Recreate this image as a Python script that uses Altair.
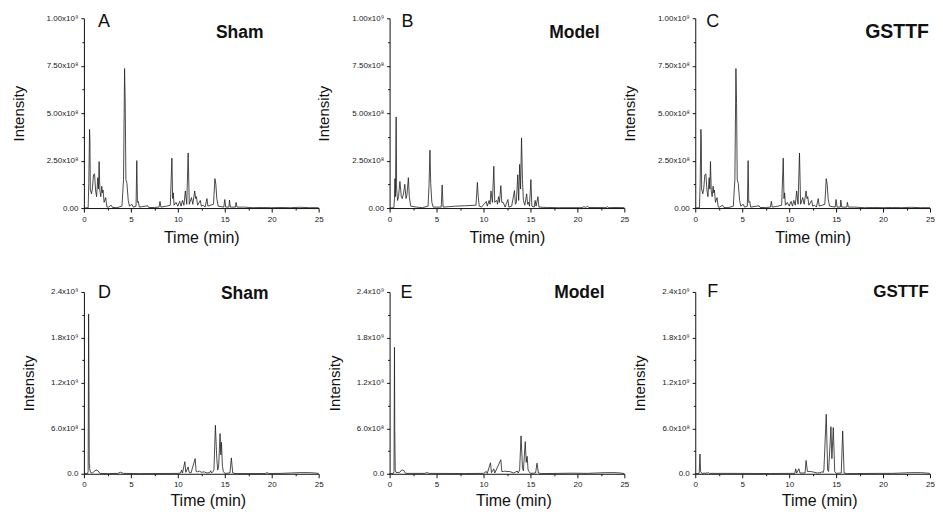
import altair as alt
import pandas as pd

# ---------------- data (intensity values in units of 1e8) ----------------
A_T = [0.0, 0.45, 0.52, 0.6, 0.64, 0.68, 0.8, 0.9, 1.02, 1.13, 1.25, 1.35, 1.48, 1.55, 1.62, 1.7, 1.8, 1.9, 1.97, 2.04, 2.15, 2.32, 2.45, 2.6, 2.9, 3.05, 3.5,
       4.05, 4.22, 4.33, 4.4, 4.47, 4.58, 4.72, 4.85, 5.1, 5.25, 5.55, 5.63, 5.7, 5.8, 5.9, 6.8, 6.9, 7.5, 8.0, 8.1, 8.2, 8.8, 9.2, 9.37, 9.45, 9.52,
       9.6, 9.8, 10.0, 10.2, 10.35, 10.5, 10.65, 10.8, 10.95, 11.1, 11.22, 11.45, 11.6, 11.8, 11.9, 11.98, 12.1, 12.4, 12.5, 12.7, 12.9, 13.1,
       13.2, 13.5, 13.8, 13.95, 14.05, 14.15, 14.3, 14.9, 15.0, 15.1, 15.45, 15.5, 15.6, 16.15, 16.2, 16.3, 17.0, 18.0, 19.0, 20.0, 21.0,
       22.0, 23.0, 24.0, 25.0]
A_V = [0.0, 0.02, 1.3, 4.15, 3.6, 1.0, 0.75, 1.0, 1.75, 1.8, 0.9, 0.6, 1.6, 1.0, 2.45, 0.9, 0.6, 1.15, 0.8, 0.95, 0.3, 0.55, 0.05, 0.05, 0.15, 0.03, 0.02,
       0.1, 1.5, 7.35, 5.5, 1.5, 1.3, 0.4, 0.1, 0.2, 0.05, 0.1, 2.5, 0.3, 0.35, 0.05, 0.12, 0.03, 0.03, 0.05, 0.35, 0.05, 0.1, 0.15, 2.63, 0.5, 0.8,
       0.15, 0.3, 0.1, 0.35, 0.1, 0.4, 0.15, 0.9, 0.2, 2.9, 0.2, 0.55, 0.2, 0.9, 0.5, 0.6, 0.15, 0.4, 0.1, 0.15, 0.05, 0.5,
       0.1, 0.15, 0.2, 1.55, 1.25, 0.5, 0.1, 0.05, 0.45, 0.05, 0.05, 0.42, 0.05, 0.05, 0.3, 0.05, 0.05, 0.02, 0.03, 0.02, 0.03,
       0.02, 0.04, 0.02, 0.02]

B_T = [0.0, 0.45, 0.52, 0.57, 0.62, 0.7, 0.75, 0.85, 0.95, 1.1, 1.25, 1.35, 1.5, 1.62, 1.75, 1.85, 2.0, 2.1, 2.25, 2.9, 3.5, 4.1, 4.2, 4.3, 4.38,
       4.5, 4.65, 5.5, 5.6, 5.7, 6.0, 7.0, 8.0, 9.2, 9.35, 9.45, 9.55, 9.8, 10.3, 10.4, 10.6, 10.7, 10.8, 10.95, 11.1, 11.2, 11.4, 11.5, 11.6,
       11.7, 11.85, 11.95, 12.1, 12.3, 12.6, 12.7, 13.0, 13.3, 13.4, 13.5, 13.65, 13.75, 13.85, 13.95, 14.05, 14.15, 14.25, 14.4, 14.6, 14.7,
       14.8, 14.9, 15.05, 15.15, 15.4, 15.5, 15.6, 15.8, 15.9, 16.8, 18.0, 20.5, 20.7, 20.85, 21.1, 21.2, 22.0, 23.1, 23.2, 23.3, 24.0, 25.0]
B_V = [0.0, 0.02, 0.5, 1.55, 0.6, 4.8, 1.0, 0.4, 0.6, 1.4, 0.6, 0.5, 0.8, 1.25, 0.5, 0.7, 1.6, 0.6, 0.1, 0.05, 0.02, 0.1, 1.2, 3.05, 1.3,
       0.3, 0.05, 0.05, 1.22, 0.05, 0.06, 0.1, 0.12, 0.15, 1.35, 0.55, 0.1, 0.05, 0.35, 0.1, 0.4, 0.2, 0.9, 0.3, 2.2, 0.3, 0.4, 0.2, 0.6,
       0.3, 1.18, 0.3, 0.3, 0.05, 0.45, 0.05, 0.1, 0.92, 0.2, 0.3, 1.75, 0.4, 2.3, 1.0, 3.7, 1.5, 0.4, 0.15, 0.75, 0.2,
       0.3, 0.1, 1.5, 0.1, 0.05, 0.4, 0.1, 0.6, 0.05, 0.03, 0.02, 0.02, 0.08, 0.03, 0.1, 0.03, 0.03, 0.02, 0.08, 0.02, 0.03, 0.02]

C_T = list(A_T)
C_V = list(A_V)

D_T = [0.0, 0.38, 0.45, 0.5, 0.53, 0.57, 0.62, 0.7, 0.9, 1.1, 1.3, 1.5, 1.7, 2.5, 3.6, 3.9, 4.2, 6.0, 8.0, 10.0, 10.3, 10.4, 10.5, 10.75,
       10.85, 11.1, 11.2, 11.4, 11.85, 11.95, 12.1, 12.3, 12.5, 12.8, 13.1, 13.4, 13.5, 13.6, 13.75, 13.85, 14.0, 14.15, 14.25, 14.35, 14.5,
       14.58, 14.65, 14.75, 14.85, 15.0, 15.55, 15.7, 15.85, 16.2, 19.3, 19.5, 19.7, 21.0, 22.0, 23.0, 24.0, 24.6, 25.0]
D_V = [0.0, 0.05, 0.3, 21.1, 13.0, 1.5, 0.65, 0.2, 0.1, 0.3, 0.5, 0.4, 0.05, 0.02, 0.05, 0.2, 0.05, 0.02, 0.03, 0.05, 0.1, 0.5, 0.1, 1.6,
       0.2, 0.9, 0.2, 0.1, 2.0, 0.3, 0.25, 0.35, 0.2, 0.25, 0.1, 0.15, 0.4, 0.1, 0.3, 0.5, 6.4, 2.0, 0.5, 1.0, 5.3,
       2.5, 4.15, 1.0, 0.3, 0.05, 0.1, 2.1, 0.1, 0.02, 0.03, 0.15, 0.03, 0.05, 0.1, 0.15, 0.15, 0.1, 0.05]

E_T = [0.0, 0.4, 0.47, 0.52, 0.55, 0.6, 0.7, 1.1, 1.3, 1.5, 1.7, 3.7, 4.0, 4.2, 8.0, 10.0, 10.3, 10.4, 10.75, 10.85, 11.1, 11.2, 11.85,
       11.95, 12.1, 12.3, 12.5, 12.8, 13.2, 13.6, 13.7, 13.85, 14.0, 14.15, 14.25, 14.45, 14.55, 14.65, 14.75, 14.85, 15.0, 15.55, 15.7, 15.85,
       16.2, 19.5, 21.0, 22.0, 23.0, 24.0, 24.6, 25.0]
E_V = [0.0, 0.05, 0.3, 16.7, 6.0, 0.5, 0.15, 0.2, 0.5, 0.45, 0.05, 0.05, 0.15, 0.05, 0.03, 0.05, 0.3, 0.05, 1.45, 0.15, 0.65, 0.1, 1.85,
       0.3, 0.3, 0.35, 0.3, 0.3, 0.1, 0.35, 0.1, 0.5, 5.0, 0.8, 0.4, 4.25, 1.5, 2.3, 0.5, 0.3, 0.05, 0.1, 1.4, 0.1,
       0.02, 0.08, 0.05, 0.1, 0.15, 0.15, 0.1, 0.02]

F_T = [0.0, 0.42, 0.5, 0.57, 0.7, 1.3, 1.4, 1.5, 3.8, 8.0, 10.0, 10.6, 10.7, 10.8, 11.05, 11.15, 11.7, 11.8, 11.95, 12.2, 12.5, 13.0,
       13.4, 13.5, 13.6, 13.7, 13.95, 14.1, 14.2, 14.45, 14.55, 14.7, 14.85, 15.0, 15.55, 15.7, 15.85, 16.2, 19.5, 21.0, 22.0, 23.0, 24.0,
       24.6, 25.0]
F_V = [0.0, 0.05, 2.6, 0.3, 0.05, 0.1, 0.15, 0.05, 0.05, 0.03, 0.05, 0.05, 0.65, 0.1, 0.65, 0.1, 0.1, 1.75, 0.3, 0.3, 0.25, 0.1,
       0.15, 0.3, 0.15, 0.5, 7.85, 0.5, 0.3, 6.2, 2.0, 6.1, 0.3, 0.05, 0.1, 5.65, 0.1, 0.02, 0.05, 0.05, 0.1, 0.15, 0.15,
       0.1, 0.05]

LETTERS = ["A", "B", "C", "D", "E", "F"]
GROUPS = ["Sham", "Model", "GSTTF", "Sham", "Model", "GSTTF"]

X_TICKS = [0, 2.5, 5, 7.5, 10, 12.5, 15, 17.5, 20, 22.5, 25]

TOP_TICKS = [0, 125000000, 250000000, 375000000, 500000000, 625000000, 750000000, 875000000, 1000000000]
TOP_MAJOR = [0, 250000000, 500000000, 750000000, 1000000000]
TOP_LABELS = ["0.00", "2.50x10⁸", "5.00x10⁸", "7.50x10⁸", "1.00x10⁹"]

BOT_TICKS = [0, 300000000, 600000000, 900000000, 1200000000, 1500000000, 1800000000, 2100000000, 2400000000]
BOT_MAJOR = [0, 600000000, 1200000000, 1800000000, 2400000000]
BOT_LABELS = ["0.0", "6.0x10⁸", "1.2x10⁹", "1.8x10⁹", "2.4x10⁹"]

TRACES = [(A_T, A_V), (B_T, B_V), (C_T, C_V), (D_T, D_V), (E_T, E_V), (F_T, F_V)]

FONT = "Liberation Sans"
W = 235


def label_expr(vals, labels):
    parts = [f"datum.value == {v} ? '{l}'" for v, l in zip(vals, labels)]
    return " : ".join(parts) + " : ''"


def panel(i):
    times, vals = TRACES[i]
    top = i < 3
    h = 190 if top else 182
    ymax = 1000000000 if top else 2400000000
    step = 250000000 if top else 600000000
    df = pd.DataFrame({"t": times, "v": [v * 1e8 for v in vals]})

    x_axis = alt.Axis(
        values=X_TICKS,
        labelExpr="datum.value % 5 === 0 ? format(datum.value, 'd') : ''",
        tickSize={"condition": {"test": "datum.value % 5 === 0", "value": 4}, "value": 2},
        labelFlush=False,
        title="Time (min)",
        titlePadding=6 if top else 4,
        grid=False,
        **({} if top else {"titleX": 124}),
    )
    y_axis = alt.Axis(
        values=TOP_TICKS if top else BOT_TICKS,
        labelExpr=label_expr(TOP_MAJOR, TOP_LABELS) if top else label_expr(BOT_MAJOR, BOT_LABELS),
        tickSize={"condition": {"test": f"datum.value % {step} === 0", "value": 3}, "value": 2},
        labelFlush=False,
        title="Intensity",
        titlePadding=20 if top else 14,
        grid=False,
    )
    line = alt.Chart(df).mark_line(color="#1e1e1e", strokeWidth=0.8).encode(
        x=alt.X("t:Q", scale=alt.Scale(domain=[0, 25], nice=False, zero=False), axis=x_axis),
        y=alt.Y("v:Q", scale=alt.Scale(domain=[0, ymax], nice=False), axis=y_axis),
    )

    letter_pos = [(14, 9), (12, 9), (11, 9), (14, 6), (11, 6), (12, 5)][i]
    group_pos = [(156, 20), (185, 20), (202, 20), (161, 7), (190, 6), (206, 5)][i]
    group_size = [17.5, 17.5, 19.5, 17.5, 17.5, 17][i]

    letter = alt.Chart(pd.DataFrame({"s": [LETTERS[i]]})).mark_text(
        font=FONT, fontSize=18, align="left", baseline="alphabetic", color="#111"
    ).encode(x=alt.value(letter_pos[0]), y=alt.value(letter_pos[1]), text="s:N")
    group = alt.Chart(pd.DataFrame({"s": [GROUPS[i]]})).mark_text(
        font=FONT, fontSize=group_size, fontWeight="bold", align="center", baseline="alphabetic", color="#111"
    ).encode(x=alt.value(group_pos[0]), y=alt.value(group_pos[1]), text="s:N")

    return alt.layer(line, letter, group).properties(width=W, height=h)


chart = alt.concat(
    *[panel(i) for i in range(6)],
    columns=3,
    spacing={"row": 84, "column": 71},
    bounds="flush",
).properties(
    padding={"left": 3, "top": 5, "right": 0, "bottom": 0},
    background="white",
).configure_view(stroke=None).configure_axis(
    labelFont=FONT,
    labelFontSize=8,
    labelColor="#222",
    labelPadding=3,
    titleFont=FONT,
    titleFontSize=15,
    titleFontWeight="normal",
    titleColor="#111",
    domainColor="#111",
    tickColor="#111",
    domainWidth=1,
    tickWidth=1,
).configure_axisX(titleFontSize=16)

chart.save("out.html", embed_options={"renderer": "svg", "actions": False})
